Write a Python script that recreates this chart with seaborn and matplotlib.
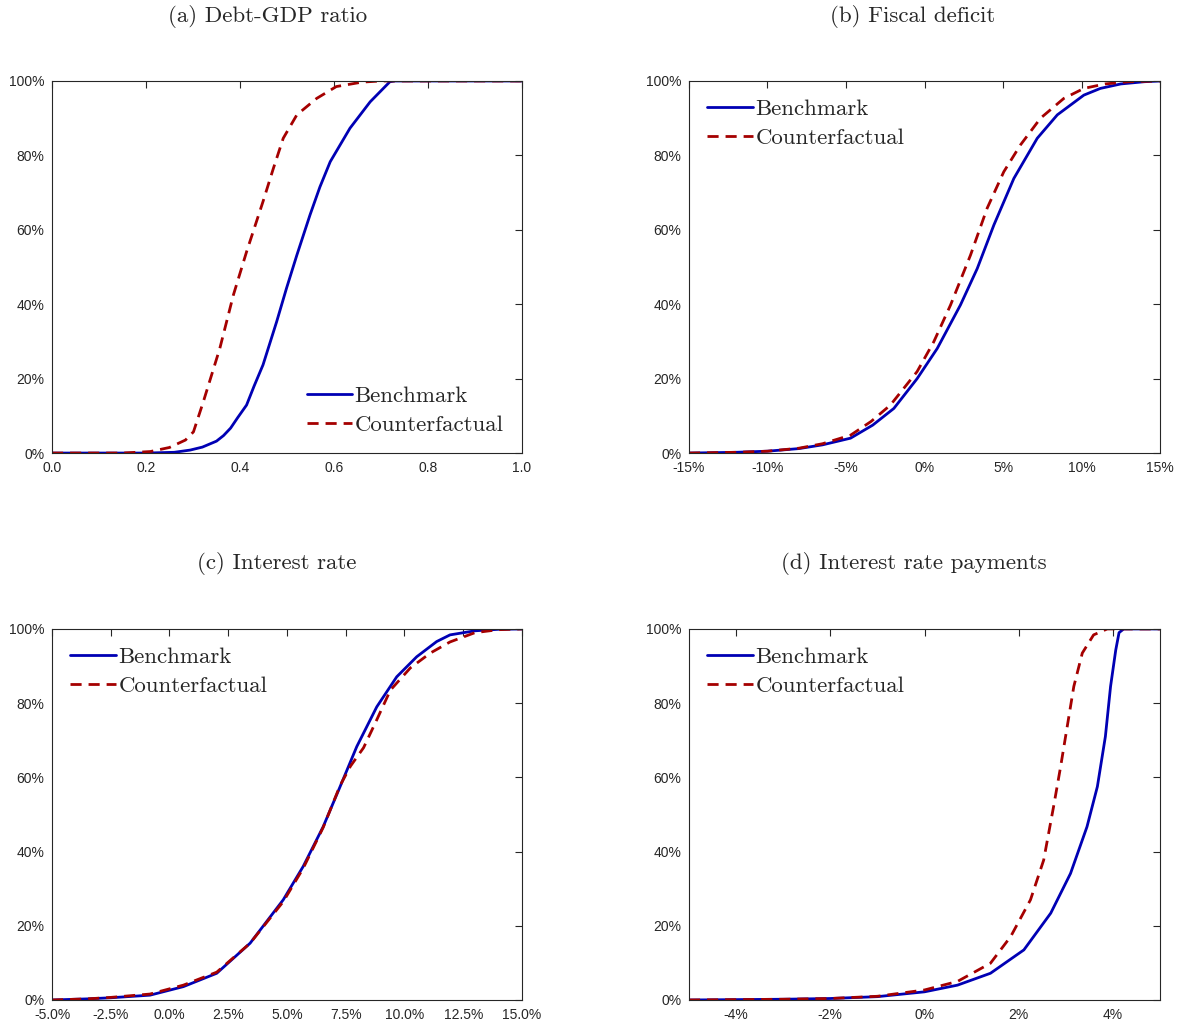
import numpy as np
import pandas as pd
import matplotlib
matplotlib.use('Agg')
import matplotlib.pyplot as plt
import seaborn as sns

# (a) Debt-GDP ratio
a_x_bench = [0.0, 0.2, 0.26, 0.294, 0.32, 0.35, 0.365, 0.38, 0.395, 0.414, 0.43, 0.449, 0.478, 0.499, 0.521, 0.549, 0.57, 0.592, 0.634, 0.677, 0.719, 0.73, 1.0]
a_y_bench = [0.0, 0.0, 0.002, 0.008, 0.016, 0.032, 0.047, 0.067, 0.095, 0.129, 0.18, 0.237, 0.353, 0.443, 0.532, 0.640, 0.715, 0.783, 0.873, 0.944, 0.998, 1.0, 1.0]
a_x_cf = [0.0, 0.15, 0.209, 0.25, 0.284, 0.301, 0.322, 0.357, 0.386, 0.414, 0.449, 0.471, 0.492, 0.521, 0.563, 0.605, 0.66, 0.70, 1.0]
a_y_cf = [0.0, 0.0, 0.004, 0.015, 0.035, 0.057, 0.138, 0.281, 0.425, 0.541, 0.676, 0.765, 0.846, 0.909, 0.953, 0.985, 0.997, 1.0, 1.0]

# (b) Fiscal deficit
b_x_bench = [-15, -12, -10, -8, -6.5, -4.71, -3.3, -1.95, -0.47, 0.81, 2.29, 3.36, 4.42, 5.69, 7.18, 8.46, 10.15, 11.2, 12.5, 14, 15]
b_y_bench = [0.0, 0.002, 0.005, 0.012, 0.022, 0.04, 0.075, 0.12, 0.20, 0.281, 0.398, 0.496, 0.613, 0.738, 0.846, 0.909, 0.962, 0.98, 0.992, 0.998, 1.0]
b_x_cf = [-15, -12, -10, -8, -6.5, -4.71, -3.4, -2.17, -0.47, 0.59, 1.66, 2.93, 3.99, 5.05, 6.11, 7.39, 8.87, 10.15, 11.5, 13, 15]
b_y_cf = [0.0, 0.002, 0.005, 0.013, 0.025, 0.048, 0.085, 0.129, 0.219, 0.299, 0.398, 0.532, 0.658, 0.756, 0.828, 0.90, 0.953, 0.98, 0.992, 0.998, 1.0]

# (c) Interest rate
c_x_bench = [-5, -3.5, -2.5, -0.83, 0.59, 2.01, 3.43, 4.84, 5.69, 6.54, 7.26, 7.97, 8.82, 9.67, 10.52, 11.37, 11.94, 13, 14, 15]
c_y_bench = [0.0, 0.003, 0.006, 0.013, 0.036, 0.072, 0.153, 0.27, 0.36, 0.467, 0.575, 0.683, 0.79, 0.871, 0.925, 0.966, 0.984, 0.995, 0.999, 1.0]
c_x_cf = [-5, -3.5, -2.5, -0.83, 0.59, 2.01, 3.43, 4.84, 5.69, 6.54, 7.26, 7.7, 8.26, 8.82, 9.4, 10.25, 11.1, 11.94, 13, 14, 15]
c_y_cf = [0.0, 0.003, 0.007, 0.016, 0.040, 0.075, 0.153, 0.265, 0.355, 0.465, 0.578, 0.63, 0.68, 0.755, 0.835, 0.895, 0.935, 0.965, 0.99, 0.998, 1.0]

# (d) Interest rate payments
d_x_bench = [-5, -3, -2, -1, 0, 0.7, 1.4, 2.11, 2.68, 3.10, 3.45, 3.67, 3.84, 3.95, 4.06, 4.13, 4.23, 5]
d_y_bench = [0.0, 0.002, 0.004, 0.009, 0.022, 0.04, 0.072, 0.135, 0.234, 0.341, 0.467, 0.575, 0.71, 0.845, 0.943, 0.99, 1.0, 1.0]
d_x_cf = [-5, -3, -2, -1, 0, 0.7, 1.4, 1.83, 2.25, 2.53, 2.74, 2.89, 3.03, 3.17, 3.35, 3.59, 3.88, 5]
d_y_cf = [0.0, 0.002, 0.004, 0.01, 0.027, 0.05, 0.099, 0.171, 0.27, 0.377, 0.521, 0.629, 0.737, 0.845, 0.935, 0.984, 1.0, 1.0]

titles = ['(a) Debt-GDP ratio', '(b) Fiscal deficit', '(c) Interest rate', '(d) Interest rate payments']
y_ticks = [0, 0.2, 0.4, 0.6, 0.8, 1.0]
y_ticklabels = ['0%', '20%', '40%', '60%', '80%', '100%']
a_ticks = [0.0, 0.2, 0.4, 0.6, 0.8, 1.0]
a_ticklabels = ['0.0', '0.2', '0.4', '0.6', '0.8', '1.0']
b_ticks = [-15, -10, -5, 0, 5, 10, 15]
b_ticklabels = ['-15%', '-10%', '-5%', '0%', '5%', '10%', '15%']
c_ticks = [-5, -2.5, 0, 2.5, 5, 7.5, 10, 12.5, 15]
c_ticklabels = ['-5.0%', '-2.5%', '0.0%', '2.5%', '5.0%', '7.5%', '10.0%', '12.5%', '15.0%']
d_ticks = [-4, -2, 0, 2, 4]
d_ticklabels = ['-4%', '-2%', '0%', '2%', '4%']

sns.set_style('white')
plt.rcParams.update({'font.family': ['Liberation Sans', 'DejaVu Sans'],
                     'axes.edgecolor': '#262626', 'axes.linewidth': 0.8,
                     'xtick.color': '#262626', 'ytick.color': '#262626',
                     'xtick.direction': 'in', 'ytick.direction': 'in',
                     'xtick.top': True, 'ytick.right': True,
                     'xtick.major.size': 5, 'ytick.major.size': 5,
                     'xtick.labelsize': 10, 'ytick.labelsize': 10})

blue = '#0000b4'
red = '#a50000'

panels = [
    (a_x_bench, a_y_bench, a_x_cf, a_y_cf, (0, 1), a_ticks, a_ticklabels, 'lower right'),
    (b_x_bench, b_y_bench, b_x_cf, b_y_cf, (-15, 15), b_ticks, b_ticklabels, 'upper left'),
    (c_x_bench, c_y_bench, c_x_cf, c_y_cf, (-5, 15), c_ticks, c_ticklabels, 'upper left'),
    (d_x_bench, d_y_bench, d_x_cf, d_y_cf, (-5, 5), d_ticks, d_ticklabels, 'upper left'),
]
positions = [[0.044, 0.558, 0.3976, 0.363], [0.5829, 0.558, 0.3985, 0.363],
             [0.044, 0.0244, 0.3976, 0.362], [0.5829, 0.0244, 0.3985, 0.362]]
title_pos = [(0.226, 0.984), (0.7724, 0.984), (0.234, 0.4507), (0.773, 0.4507)]

fig = plt.figure(figsize=(11.82, 10.25), dpi=100)
for i, (xb, yb, xc, yc, xlim, xt, xtl, loc) in enumerate(panels):
    ax = fig.add_axes(positions[i])
    df = pd.DataFrame({'x': list(xb) + list(xc), 'y': list(yb) + list(yc),
                       'series': ['Benchmark'] * len(xb) + ['Counterfactual'] * len(xc)})
    sns.lineplot(data=df, x='x', y='y', hue='series', style='series',
                 palette={'Benchmark': blue, 'Counterfactual': red},
                 dashes={'Benchmark': '', 'Counterfactual': (4, 2.5)},
                 linewidth=2, ax=ax, sort=False)
    ax.set_xlim(xlim)
    ax.set_ylim(0, 1)
    ax.set_xticks(xt)
    ax.set_xticklabels(xtl)
    ax.set_yticks(y_ticks)
    ax.set_yticklabels(y_ticklabels)
    ax.set_xlabel('')
    ax.set_ylabel('')
    ax.tick_params(pad=5.5, width=0.8)
    leg = ax.legend(loc=loc, frameon=False, prop={'family': 'cmr10', 'size': 16.5},
                    handlelength=2.0, handletextpad=0.1, labelspacing=0.36,
                    borderaxespad=0.4)
    fig.text(title_pos[i][0], title_pos[i][1], titles[i], ha='center', va='center',
             family='cmr10', fontsize=16.5)

fig.savefig('out.png', dpi=100)
